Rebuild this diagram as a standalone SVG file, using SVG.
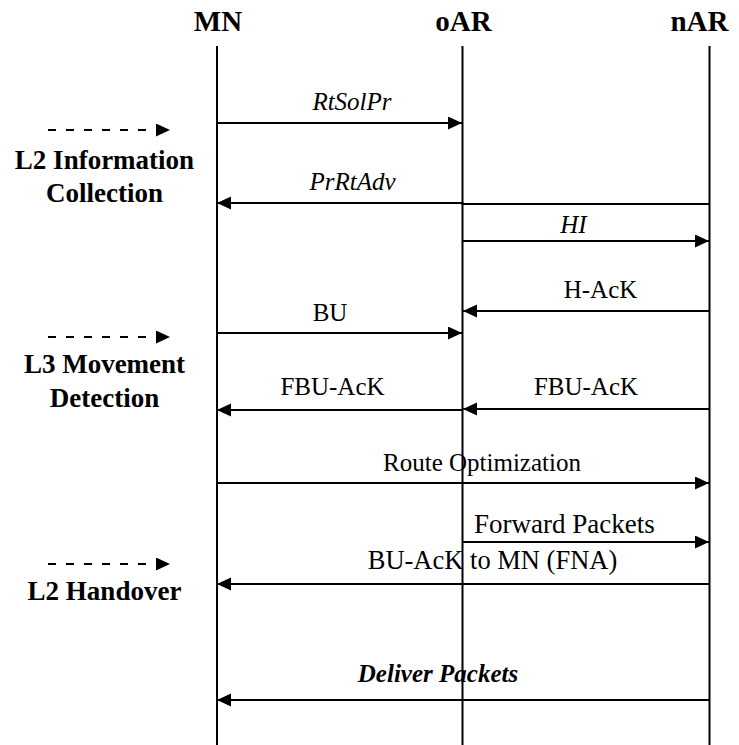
<svg xmlns="http://www.w3.org/2000/svg" width="739" height="745" viewBox="0 0 739 745">
<style>
text{font-family:"Liberation Serif","Times New Roman",serif;fill:#000}
.hdr{font-size:29px;font-weight:bold;text-anchor:middle}
.phase{font-size:27px;font-weight:bold;text-anchor:middle}
.lbl{font-size:25px;text-anchor:middle}
.it{font-style:italic}
.life{stroke:#000;stroke-width:2;fill:none}
.msg{stroke:#000;stroke-width:2;fill:none}
.dash{stroke:#000;stroke-width:2;stroke-dasharray:8 10;fill:none}
</style>
<defs>
<marker id="ah" markerUnits="userSpaceOnUse" markerWidth="15" markerHeight="14" refX="14" refY="6.5" orient="auto">
<path d="M0,0 L14,6.5 L0,13 Z" fill="#000"/>
</marker>
</defs>
<rect width="739" height="745" fill="#fff"/>
<g id="MN">
<text class="hdr" x="218" y="31">MN</text>
<line class="life" x1="217" y1="46" x2="217" y2="745"/>
</g>
<g id="oAR">
<text class="hdr" x="463.5" y="31">oAR</text>
<line class="life" x1="462.5" y1="46" x2="462.5" y2="745"/>
</g>
<g id="nAR">
<text class="hdr" x="699.5" y="31">nAR</text>
<line class="life" x1="709.5" y1="46" x2="709.5" y2="745"/>
</g>
<g id="phase-l2info">
<line class="dash" x1="48" y1="130" x2="170" y2="130" marker-end="url(#ah)"/>
<text class="phase" x="104.5" y="169">L2 Information</text>
<text class="phase" x="104.5" y="202">Collection</text>
</g>
<g id="phase-l3">
<line class="dash" x1="48" y1="337" x2="170" y2="337" marker-end="url(#ah)"/>
<text class="phase" x="104.5" y="373">L3 Movement</text>
<text class="phase" x="104.5" y="407">Detection</text>
</g>
<g id="phase-l2ho">
<line class="dash" x1="48" y1="564" x2="170" y2="564" marker-end="url(#ah)"/>
<text class="phase" x="104.5" y="600">L2 Handover</text>
</g>
<g id="connectors">
<line class="msg" x1="217" y1="123" x2="462" y2="123" marker-end="url(#ah)"/>
<polyline class="msg" points="709.5,204 462.5,204 462.5,203 217,203" marker-end="url(#ah)"/>
<line class="msg" x1="462.5" y1="241" x2="709" y2="241" marker-end="url(#ah)"/>
<line class="msg" x1="709.5" y1="311" x2="463" y2="311" marker-end="url(#ah)"/>
<line class="msg" x1="217" y1="333" x2="462" y2="333" marker-end="url(#ah)"/>
<line class="msg" x1="462.5" y1="410" x2="217" y2="410" marker-end="url(#ah)"/>
<line class="msg" x1="709.5" y1="409" x2="463" y2="409" marker-end="url(#ah)"/>
<line class="msg" x1="217" y1="483" x2="709" y2="483" marker-end="url(#ah)"/>
<line class="msg" x1="462.5" y1="542" x2="709" y2="542" marker-end="url(#ah)"/>
<line class="msg" x1="709.5" y1="584" x2="217" y2="584" marker-end="url(#ah)"/>
<line class="msg" x1="709.5" y1="700" x2="217" y2="700" marker-end="url(#ah)"/>
</g>
<g id="labels">
<text class="lbl it" x="352" y="110">RtSolPr</text>
<text class="lbl it" x="352.5" y="190">PrRtAdv</text>
<text class="lbl it" x="573.5" y="233">HI</text>
<text class="lbl" x="600.5" y="298">H-AcK</text>
<text class="lbl" x="330" y="321">BU</text>
<text class="lbl" x="332.5" y="395">FBU-AcK</text>
<text class="lbl" x="586" y="395">FBU-AcK</text>
<text class="lbl" x="482" y="471">Route Optimization</text>
<text class="lbl" x="474" y="533" style="font-size:27px;text-anchor:start">Forward Packets</text>
<text class="lbl" x="492.5" y="569" style="font-size:26.5px">BU-AcK to MN (FNA)</text>
<text class="lbl it" x="438" y="682" style="font-weight:bold">Deliver Packets</text>
</g>
</svg>
